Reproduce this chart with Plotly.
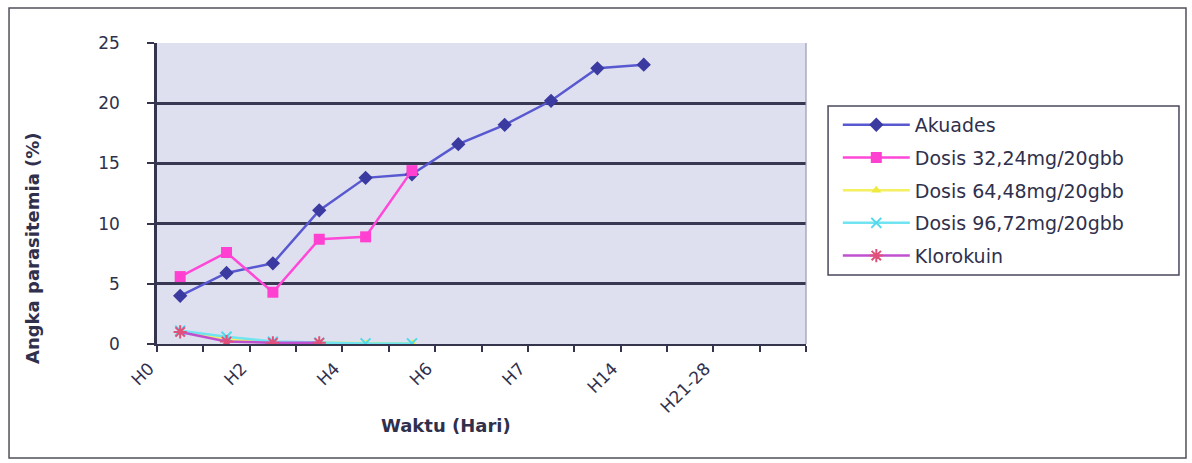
import plotly.graph_objects as go

# Parasitemia (%) per observation day, one list per treatment group
day_labels = ["H0", "H2", "H4", "H6", "H7", "H14", "H21-28"]
n_slots = 14

akuades = [4.0, 5.9, 6.7, 11.1, 13.8, 14.1, 16.6, 18.2, 20.2, 22.9, 23.2]
dosis_32 = [5.6, 7.6, 4.3, 8.7, 8.9, 14.4]
dosis_64 = [1.0, 0.4, 0.15, 0.1, 0.05, 0.05]
dosis_96 = [1.1, 0.6, 0.2, 0.1, 0.05, 0.05]
klorokuin = [1.0, 0.2, 0.1, 0.1]

series = [
    ("Akuades", akuades, "#5858d0", dict(symbol="diamond", size=11, color="#3a3aa0")),
    ("Dosis 32,24mg/20gbb", dosis_32, "#ff48d8", dict(symbol="square", size=11, color="#ff40d0")),
    ("Dosis 64,48mg/20gbb", dosis_64, "#f4f060", dict(symbol="triangle-up", size=9, color="#eeea40")),
    ("Dosis 96,72mg/20gbb", dosis_96, "#70e4f0", dict(symbol="x-thin-open", size=10, color="#50d8ec",
                                                      line=dict(width=2, color="#50d8ec"))),
    ("Klorokuin", klorokuin, "#c050d0", dict(symbol="asterisk-open", size=11, color="#e0507a",
                                           line=dict(width=2, color="#e0507a"))),
]

FONT = "DejaVu Sans"
INK = "#30304c"

fig = go.Figure()
for i, (name, vals, col, mk) in enumerate(series):
    fig.add_trace(go.Scatter(
        x=list(range(len(vals))), y=vals, name=name, mode="lines+markers",
        line=dict(color=col, width=2.5), marker=mk, legendgroup=f"g{i}",
    ))

fig.update_layout(
    width=1192, height=463,
    margin=dict(l=157, r=386, t=43, b=119),
    paper_bgcolor="white",
    plot_bgcolor="#dfe0ef",
    font=dict(family=FONT, color=INK, size=16),
    showlegend=True,
    legend=dict(
        x=1.049, y=0.791, xanchor="left", yanchor="top",
        bgcolor="rgba(0,0,0,0)", borderwidth=0,
        font=dict(family=FONT, size=19, color=INK),
        itemwidth=67, tracegroupgap=5,
    ),
    xaxis=dict(
        range=[-0.5, n_slots - 0.5], showgrid=False, zeroline=False,
        tickmode="array", tickvals=list(range(0, 2 * len(day_labels), 2)), ticktext=day_labels,
        ticks="", tickangle=-45, ticklabelshift=-31, ticklabelstandoff=6,
        tickfont=dict(family=FONT, size=17, color=INK),
        showline=True, linecolor="#34344c", linewidth=2,
        minor=dict(tickmode="array", tickvals=[k - 0.5 for k in range(n_slots + 1)],
                   ticks="outside", ticklen=6, tickwidth=1.5, tickcolor="#34344c"),
    ),
    yaxis=dict(
        range=[0, 25], dtick=5, tick0=0, zeroline=False,
        showgrid=True, gridcolor="#383852", gridwidth=2.8,
        ticks="outside", ticklen=7, tickwidth=1.5, tickcolor="#34344c",
        ticklabelstandoff=24,
        tickfont=dict(family=FONT, size=17, color=INK),
        showline=True, linecolor="#34344c", linewidth=2.5,
    ),
    shapes=[
        # right edge of plotting area
        dict(type="line", xref="paper", yref="paper", x0=1, x1=1, y0=0, y1=1,
             line=dict(color="#9898b8", width=1.2)),
        # legend frame
        dict(type="rect", xref="paper", yref="paper", x0=1.034, x1=1.5747, y0=0.229, y1=0.791,
             line=dict(color="#48485c", width=1.5)),
        # chart frame
        dict(type="rect", xref="paper", yref="paper", x0=-0.228, x1=1.5855, y0=-0.379, y1=1.116,
             line=dict(color="#50505c", width=1.5)),
    ],
    annotations=[
        dict(text="Angka parasitemia (%)", xref="paper", yref="paper", x=-0.191, y=0.319,
             xanchor="center", yanchor="middle",
             textangle=-90, showarrow=False, font=dict(family=FONT, size=18, color=INK, weight="bold")),
        dict(text="Waktu (Hari)", xref="paper", yref="paper", x=0.445, y=-0.27,
             xanchor="center", yanchor="middle",
             showarrow=False, font=dict(family=FONT, size=18, color=INK, weight="bold")),
    ],
)

fig.write_html("out.html")
